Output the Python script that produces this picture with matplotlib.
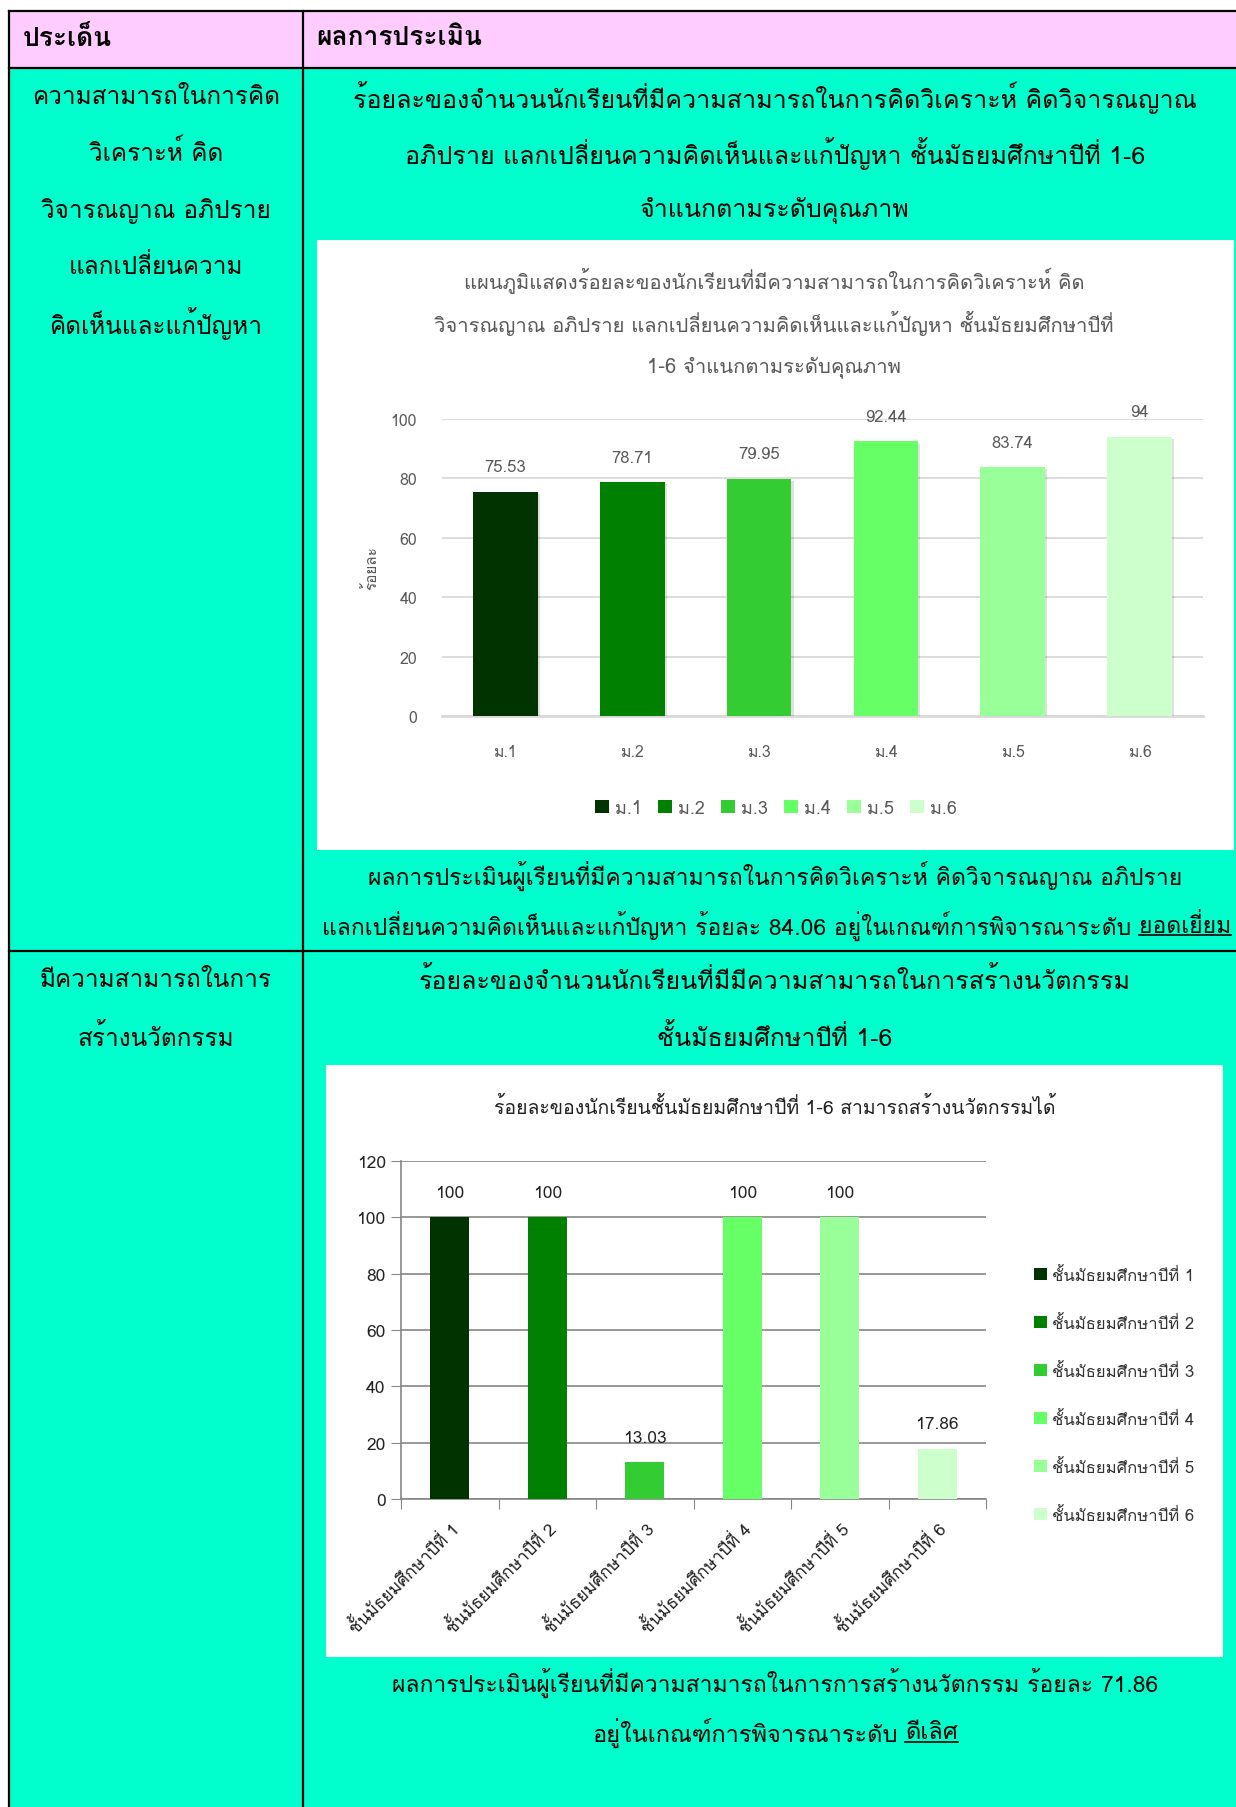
import matplotlib
matplotlib.use("Agg")
import matplotlib.pyplot as plt
from matplotlib import font_manager, patheffects
from matplotlib.ft2font import FT2Font
from matplotlib.patches import Rectangle
from matplotlib.lines import Line2D

W, H = 1236, 1808

# --- data ---
grades_short = ["ม.1", "ม.2", "ม.3", "ม.4", "ม.5", "ม.6"]
thinking_pct = [75.53, 78.71, 79.95, 92.44, 83.74, 94]

grades_long = ["ชั้นมัธยมศึกษาปีที่ 1", "ชั้นมัธยมศึกษาปีที่ 2", "ชั้นมัธยมศึกษาปีที่ 3",
               "ชั้นมัธยมศึกษาปีที่ 4", "ชั้นมัธยมศึกษาปีที่ 5", "ชั้นมัธยมศึกษาปีที่ 6"]
innovation_pct = [100, 100, 13.03, 100, 100, 17.86]

bar_colors = ["#003300", "#008000", "#33CC33", "#66FF66", "#99FF99", "#CCFFCC"]

CYAN = "#00FFCC"
PINK = "#FFCCFF"


def thai_families():
    # matplotlib falls back through the list, so put every font with Thai glyphs first
    names = []
    for f in font_manager.fontManager.ttflist:
        try:
            cmap = FT2Font(f.fname).get_charmap()
        except Exception:
            continue
        if 0x0E01 in cmap and f.name not in names:
            names.append(f.name)
    return names


plt.rcParams["font.family"] = thai_families() + ["DejaVu Sans"]


def fx(x):
    return x / W


def fy(y):
    return 1 - y / H


fig = plt.figure(figsize=(W / 100, H / 100), dpi=100)

# --- table backgrounds and borders ---
fig.add_artist(Rectangle((fx(9), 0), 1 - fx(9), fy(12), transform=fig.transFigure,
                         facecolor=CYAN, edgecolor="none", zorder=0))
fig.add_artist(Rectangle((fx(9), fy(69)), 1 - fx(9), fy(12) - fy(69), transform=fig.transFigure,
                         facecolor=PINK, edgecolor="none", zorder=0))
fig.add_artist(Rectangle((fx(317), fy(851)), fx(1234) - fx(317), fy(241) - fy(851),
                         transform=fig.transFigure, facecolor="white", edgecolor="none", zorder=0.5))
fig.add_artist(Rectangle((fx(326), fy(1658)), fx(1223) - fx(326), fy(1066) - fy(1658),
                         transform=fig.transFigure, facecolor="white", edgecolor="none", zorder=0.5))

for y in (12, 69, 952):
    fig.add_artist(Line2D([fx(9), 1], [fy(y), fy(y)], color="black", lw=1.6, zorder=1))
for x in (9, 303):
    fig.add_artist(Line2D([fx(x), fx(x)], [0, fy(12)], color="black", lw=1.6, zorder=1))

BODY = 17.5

fig.text(fx(23), fy(38), "ประเด็น", fontsize=19, fontweight="bold", va="center")
fig.text(fx(316), fy(38), "ผลการประเมิน", fontsize=19, fontweight="bold", va="center")

left1 = ["ความสามารถในการคิด", "วิเคราะห์ คิด", "วิจารณญาณ อภิปราย", "แลกเปลี่ยนความ",
         "คิดเห็นและแก้ปัญหา"]
for s, y in zip(left1, [97, 153, 211, 267, 324]):
    fig.text(fx(156), fy(y), s, fontsize=BODY, ha="center", va="center")

head1 = ["ร้อยละของจำนวนนักเรียนที่มีความสามารถในการคิดวิเคราะห์ คิดวิจารณญาณ",
         "อภิปราย แลกเปลี่ยนความคิดเห็นและแก้ปัญหา ชั้นมัธยมศึกษาปีที่ 1-6",
         "จำแนกตามระดับคุณภาพ"]
for s, y in zip(head1, [97, 153, 211]):
    fig.text(fx(775), fy(y), s, fontsize=18, ha="center", va="center")

left2 = ["มีความสามารถในการ", "สร้างนวัตกรรม"]
for s, y in zip(left2, [981, 1038]):
    fig.text(fx(156), fy(y), s, fontsize=BODY, ha="center", va="center")

head2 = ["ร้อยละของจำนวนนักเรียนที่มีมีความสามารถในการสร้างนวัตกรรม",
         "ชั้นมัธยมศึกษาปีที่ 1-6"]
for s, y in zip(head2, [981, 1038]):
    fig.text(fx(775), fy(y), s, fontsize=18, ha="center", va="center")

renderer = fig.canvas.get_renderer()


def underlined_line(y, pre, word, size, xc=None, right=None):
    # text has no underline option, so draw the word apart and rule a line under it
    t1 = fig.text(0, fy(y), pre, fontsize=size, ha="left", va="center")
    t2 = fig.text(0, fy(y), word, fontsize=size, ha="left", va="center")
    gap = 8
    w1 = t1.get_window_extent(renderer).width
    w2 = t2.get_window_extent(renderer).width
    if right is not None:
        x0 = right - (w1 + gap + w2)
    else:
        x0 = xc - (w1 + gap + w2) / 2
    t1.set_x(fx(x0))
    t2.set_x(fx(x0 + w1 + gap))
    bb = t2.get_window_extent(renderer)
    uy = bb.y0 / H + 2 / H
    fig.add_artist(Line2D([bb.x0 / W, bb.x1 / W], [uy, uy], color="black", lw=1.2))


fig.text(fx(775), fy(876), "ผลการประเมินผู้เรียนที่มีความสามารถในการคิดวิเคราะห์ คิดวิจารณญาณ อภิปราย",
         fontsize=16.5, ha="center", va="center")
underlined_line(926, "แลกเปลี่ยนความคิดเห็นและแก้ปัญหา ร้อยละ 84.06 อยู่ในเกณฑ์การพิจารณาระดับ",
                "ยอดเยี่ยม", 16.5, right=1231)

fig.text(fx(775), fy(1683), "ผลการประเมินผู้เรียนที่มีความสามารถในการการสร้างนวัตกรรม ร้อยละ 71.86",
         fontsize=16.5, ha="center", va="center")
underlined_line(1733, "อยู่ในเกณฑ์การพิจารณาระดับ", "ดีเลิศ", 17, xc=775)

# --- chart 1 ---
GRAY = "#595959"
ax1 = fig.add_axes([fx(442), fy(717), fx(1203) - fx(442), fy(420) - fy(717)], zorder=2)
ax1.set_facecolor("none")
x = range(len(grades_short))
bars1 = ax1.bar(x, thinking_pct, width=0.51, color=bar_colors, zorder=3)
for b in bars1:
    b.set_path_effects([patheffects.SimplePatchShadow(offset=(1.5, -1.5), shadow_rgbFace="black",
                                                      alpha=0.12), patheffects.Normal()])
ax1.set_xlim(-0.5, 5.5)
ax1.set_ylim(0, 100)
ax1.set_yticks(range(0, 101, 20))
ax1.yaxis.grid(True, color="#D9D9D9", lw=1.3, zorder=0)
ax1.set_axisbelow(True)
for s in ("top", "right", "left"):
    ax1.spines[s].set_visible(False)
ax1.spines["bottom"].set_color("#D9D9D9")
ax1.spines["bottom"].set_linewidth(2)
ax1.tick_params(length=0, labelsize=11.5, labelcolor=GRAY)
ax1.tick_params(axis="y", pad=18)
ax1.tick_params(axis="x", pad=20)
ax1.set_xticks(list(x))
ax1.set_xticklabels(grades_short)
ax1.set_ylabel("ร้อยละ", fontsize=11, color=GRAY, labelpad=8)
for i, v in enumerate(thinking_pct):
    ax1.annotate(f"{v:g}", (i, v), xytext=(0, 12), textcoords="offset points",
                 ha="center", va="bottom", fontsize=12, color=GRAY, annotation_clip=False)

title1 = ["แผนภูมิแสดงร้อยละของนักเรียนที่มีความสามารถในการคิดวิเคราะห์ คิด",
          "วิจารณญาณ อภิปราย แลกเปลี่ยนความคิดเห็นและแก้ปัญหา ชั้นมัธยมศึกษาปีที่",
          "1-6 จำแนกตามระดับคุณภาพ"]
for s, y in zip(title1, [281, 323, 367]):
    fig.text(fx(774), fy(y), s, fontsize=14.5, color=GRAY, ha="center", va="center")

handles1 = [Rectangle((0, 0), 1, 1, facecolor=c) for c in bar_colors]
fig.legend(handles1, grades_short, loc="center", bbox_to_anchor=(fx(776), fy(809)),
           ncol=6, frameon=False, fontsize=13, handlelength=0.75, handleheight=0.75,
           handletextpad=0.35, columnspacing=0.9, labelcolor=GRAY)

# --- chart 2 ---
ax2 = fig.add_axes([fx(401), fy(1500), fx(986) - fx(401), fy(1162) - fy(1500)], zorder=2)
ax2.set_facecolor("none")
ax2.bar(x, innovation_pct, width=0.40, color=bar_colors, zorder=3)
ax2.set_xlim(-0.5, 5.5)
ax2.set_ylim(0, 120)
ax2.set_yticks(range(0, 121, 20))
ax2.yaxis.grid(True, color="#868686", lw=1.2, zorder=0)
ax2.set_axisbelow(True)
for s in ("top", "right"):
    ax2.spines[s].set_visible(False)
for s in ("left", "bottom"):
    ax2.spines[s].set_color("#868686")
    ax2.spines[s].set_linewidth(1.2)
ax2.tick_params(axis="y", length=7, color="#868686", labelsize=12.5, labelcolor="#222222", pad=4)
ax2.set_xticks([i - 0.5 for i in range(7)], minor=False)
ax2.set_xticklabels([])
ax2.tick_params(axis="x", length=7, color="#868686")
ax2.set_xticks(list(x), minor=True)
ax2.set_xticklabels(grades_long, minor=True, rotation=45, ha="right", va="top",
                    rotation_mode="anchor", fontsize=12.5, color="#222222")
ax2.tick_params(axis="x", which="minor", length=0, pad=14)
for i, v in enumerate(innovation_pct):
    ax2.annotate(f"{v:g}", (i, v), xytext=(0, 12), textcoords="offset points",
                 ha="center", va="bottom", fontsize=12.5, color="#222222", annotation_clip=False)

fig.text(fx(775), fy(1107), "ร้อยละของนักเรียนชั้นมัธยมศึกษาปีที่ 1-6 สามารถสร้างนวัตกรรมได้",
         fontsize=14, color="#222222", ha="center", va="center")

fig.legend(handles1, grades_long, loc="upper left", bbox_to_anchor=(fx(1019), fy(1253)),
           ncol=1, frameon=False, fontsize=12, handlelength=0.75, handleheight=0.75,
           handletextpad=0.3, labelspacing=1.86, labelcolor="#333333")

fig.savefig("out.png", dpi=100)
